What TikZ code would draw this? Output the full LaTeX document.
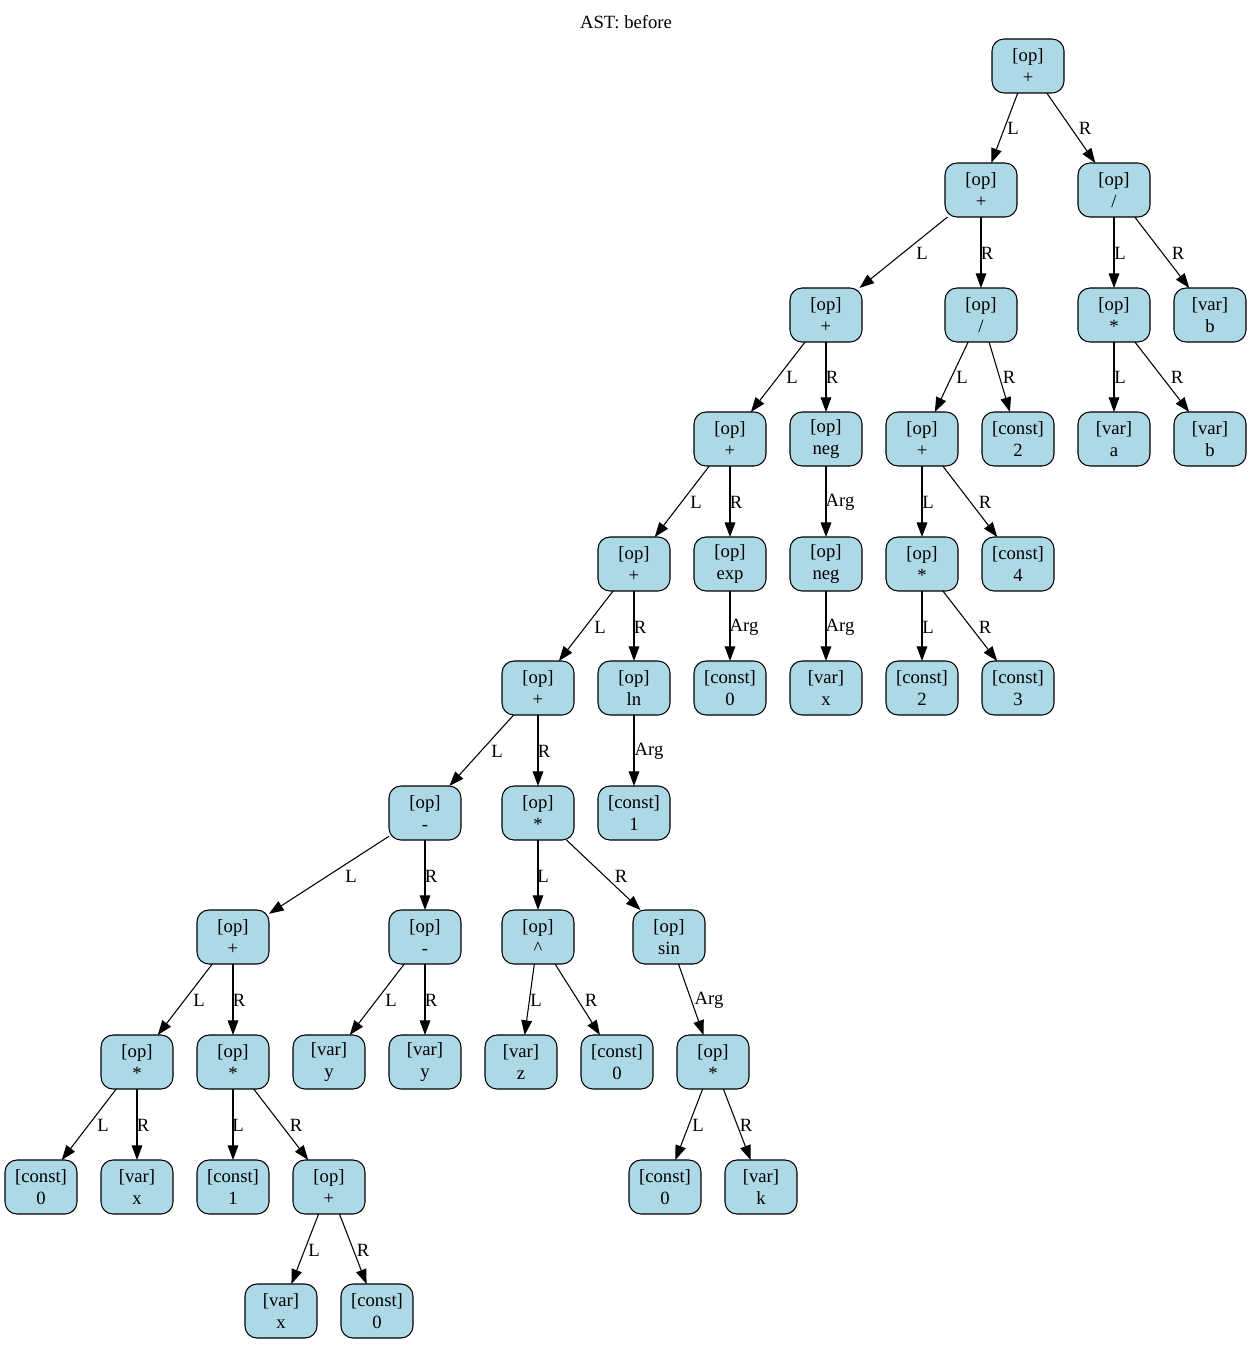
\documentclass[tikz,border=0pt]{standalone}
\usepackage{fontspec}
\setmainfont{Liberation Serif}
\usetikzlibrary{arrows.meta}
\definecolor{lb}{HTML}{ADD8E6}
\tikzset{
  ast/.style={draw=black, fill=lb, rounded corners=9pt, minimum width=54pt, minimum height=40.5pt,
    inner sep=1pt, outer sep=0pt, align=center, font=\fontsize{14}{16.5}\selectfont, line width=0.8pt},
  conn/.style={-{Triangle[length=11pt,width=8pt]}, line width=0.8pt},
  elab/.style={font=\fontsize{14}{16}\selectfont, inner sep=0pt},
  ttl/.style={font=\fontsize{14}{16}\selectfont, inner sep=0pt}
}
\newcommand{\edg}[5]{\draw[conn] (#1) -- (#2); \node[elab] at (#4,#5) {#3};}
\begin{document}
\begin{tikzpicture}[x=0.75pt, y=-0.75pt]
\useasboundingbox (0,0) rectangle (1252,1345);
\node[ttl] (title) at (626,22) {AST: before};
% row 1
\node[ast] (n1) at (1028,66) {[op]\\+};
% row 2
\node[ast] (n2) at (981,190) {[op]\\+};
\node[ast] (n3) at (1114,190) {[op]\\/};
% row 3
\node[ast] (n4) at (826,315) {[op]\\+};
\node[ast] (n5) at (981,315) {[op]\\/};
\node[ast] (n6) at (1114,315) {[op]\\*};
\node[ast] (n7) at (1210,315) {[var]\\b};
% row 4
\node[ast] (n8) at (730,439) {[op]\\+};
\node[ast] (n9) at (826,439) {[op]\\neg};
\node[ast] (n10) at (922,439) {[op]\\+};
\node[ast] (n11) at (1018,439) {[const]\\2};
\node[ast] (n12) at (1114,439) {[var]\\a};
\node[ast] (n13) at (1210,439) {[var]\\b};
% row 5
\node[ast] (n14) at (634,564) {[op]\\+};
\node[ast] (n15) at (730,564) {[op]\\exp};
\node[ast] (n16) at (826,564) {[op]\\neg};
\node[ast] (n17) at (922,564) {[op]\\*};
\node[ast] (n18) at (1018,564) {[const]\\4};
% row 6
\node[ast] (n19) at (538,688) {[op]\\+};
\node[ast] (n20) at (634,688) {[op]\\ln};
\node[ast] (n21) at (730,688) {[const]\\0};
\node[ast] (n22) at (826,688) {[var]\\x};
\node[ast] (n23) at (922,688) {[const]\\2};
\node[ast] (n24) at (1018,688) {[const]\\3};
% row 7
\node[ast] (n25) at (425,813) {[op]\\-};
\node[ast] (n26) at (538,813) {[op]\\*};
\node[ast] (n27) at (634,813) {[const]\\1};
% row 8
\node[ast] (n28) at (233,937) {[op]\\+};
\node[ast] (n29) at (425,937) {[op]\\-};
\node[ast] (n30) at (538,937) {[op]\\\textasciicircum};
\node[ast] (n31) at (669,937) {[op]\\sin};
% row 9
\node[ast] (n32) at (137,1062) {[op]\\*};
\node[ast] (n33) at (233,1062) {[op]\\*};
\node[ast] (n34) at (329,1062) {[var]\\y};
\node[ast] (n35) at (425,1062) {[var]\\y};
\node[ast] (n36) at (521,1062) {[var]\\z};
\node[ast] (n37) at (617,1062) {[const]\\0};
\node[ast] (n38) at (713,1062) {[op]\\*};
% row 10
\node[ast] (n39) at (41,1187) {[const]\\0};
\node[ast] (n40) at (137,1187) {[var]\\x};
\node[ast] (n41) at (233,1187) {[const]\\1};
\node[ast] (n42) at (329,1187) {[op]\\+};
\node[ast] (n43) at (665,1187) {[const]\\0};
\node[ast] (n44) at (761,1187) {[var]\\k};
% row 11
\node[ast] (n45) at (281,1311) {[var]\\x};
\node[ast] (n46) at (377,1311) {[const]\\0};
% edges
\edg{n1}{n2}{L}{1013}{128}
\edg{n1}{n3}{R}{1085}{128}
\edg{n2}{n4}{L}{922}{253}
\edg{n2}{n5}{R}{987}{253}
\edg{n3}{n6}{L}{1120}{253}
\edg{n3}{n7}{R}{1178}{253}
\edg{n4}{n8}{L}{792}{377}
\edg{n4}{n9}{R}{832}{377}
\edg{n5}{n10}{L}{962}{377}
\edg{n5}{n11}{R}{1009}{377}
\edg{n6}{n12}{L}{1120}{377}
\edg{n6}{n13}{R}{1177}{377}
\edg{n8}{n14}{L}{696}{502}
\edg{n8}{n15}{R}{736}{502}
\edg{n9}{n16}{Arg}{840}{502}
\edg{n10}{n17}{L}{928}{502}
\edg{n10}{n18}{R}{985}{502}
\edg{n14}{n19}{L}{600}{627}
\edg{n14}{n20}{R}{640}{627}
\edg{n15}{n21}{Arg}{744}{627}
\edg{n16}{n22}{Arg}{840}{627}
\edg{n17}{n23}{L}{928}{627}
\edg{n17}{n24}{R}{985}{627}
\edg{n19}{n25}{L}{497}{751}
\edg{n19}{n26}{R}{544}{751}
\edg{n20}{n27}{Arg}{649}{751}
\edg{n25}{n28}{L}{351}{876}
\edg{n25}{n29}{R}{431}{876}
\edg{n26}{n30}{L}{543}{876}
\edg{n26}{n31}{R}{621}{876}
\edg{n28}{n32}{L}{199}{1000}
\edg{n28}{n33}{R}{239}{1000}
\edg{n29}{n34}{L}{391}{1000}
\edg{n29}{n35}{R}{431}{1000}
\edg{n30}{n36}{L}{536}{1000}
\edg{n30}{n37}{R}{591}{1000}
\edg{n31}{n38}{Arg}{709}{1000}
\edg{n32}{n39}{L}{103}{1125}
\edg{n32}{n40}{R}{143}{1125}
\edg{n33}{n41}{L}{238}{1125}
\edg{n33}{n42}{R}{296}{1125}
\edg{n38}{n43}{L}{698}{1125}
\edg{n38}{n44}{R}{746}{1125}
\edg{n42}{n45}{L}{314}{1250}
\edg{n42}{n46}{R}{363}{1250}
\end{tikzpicture}
\end{document}
